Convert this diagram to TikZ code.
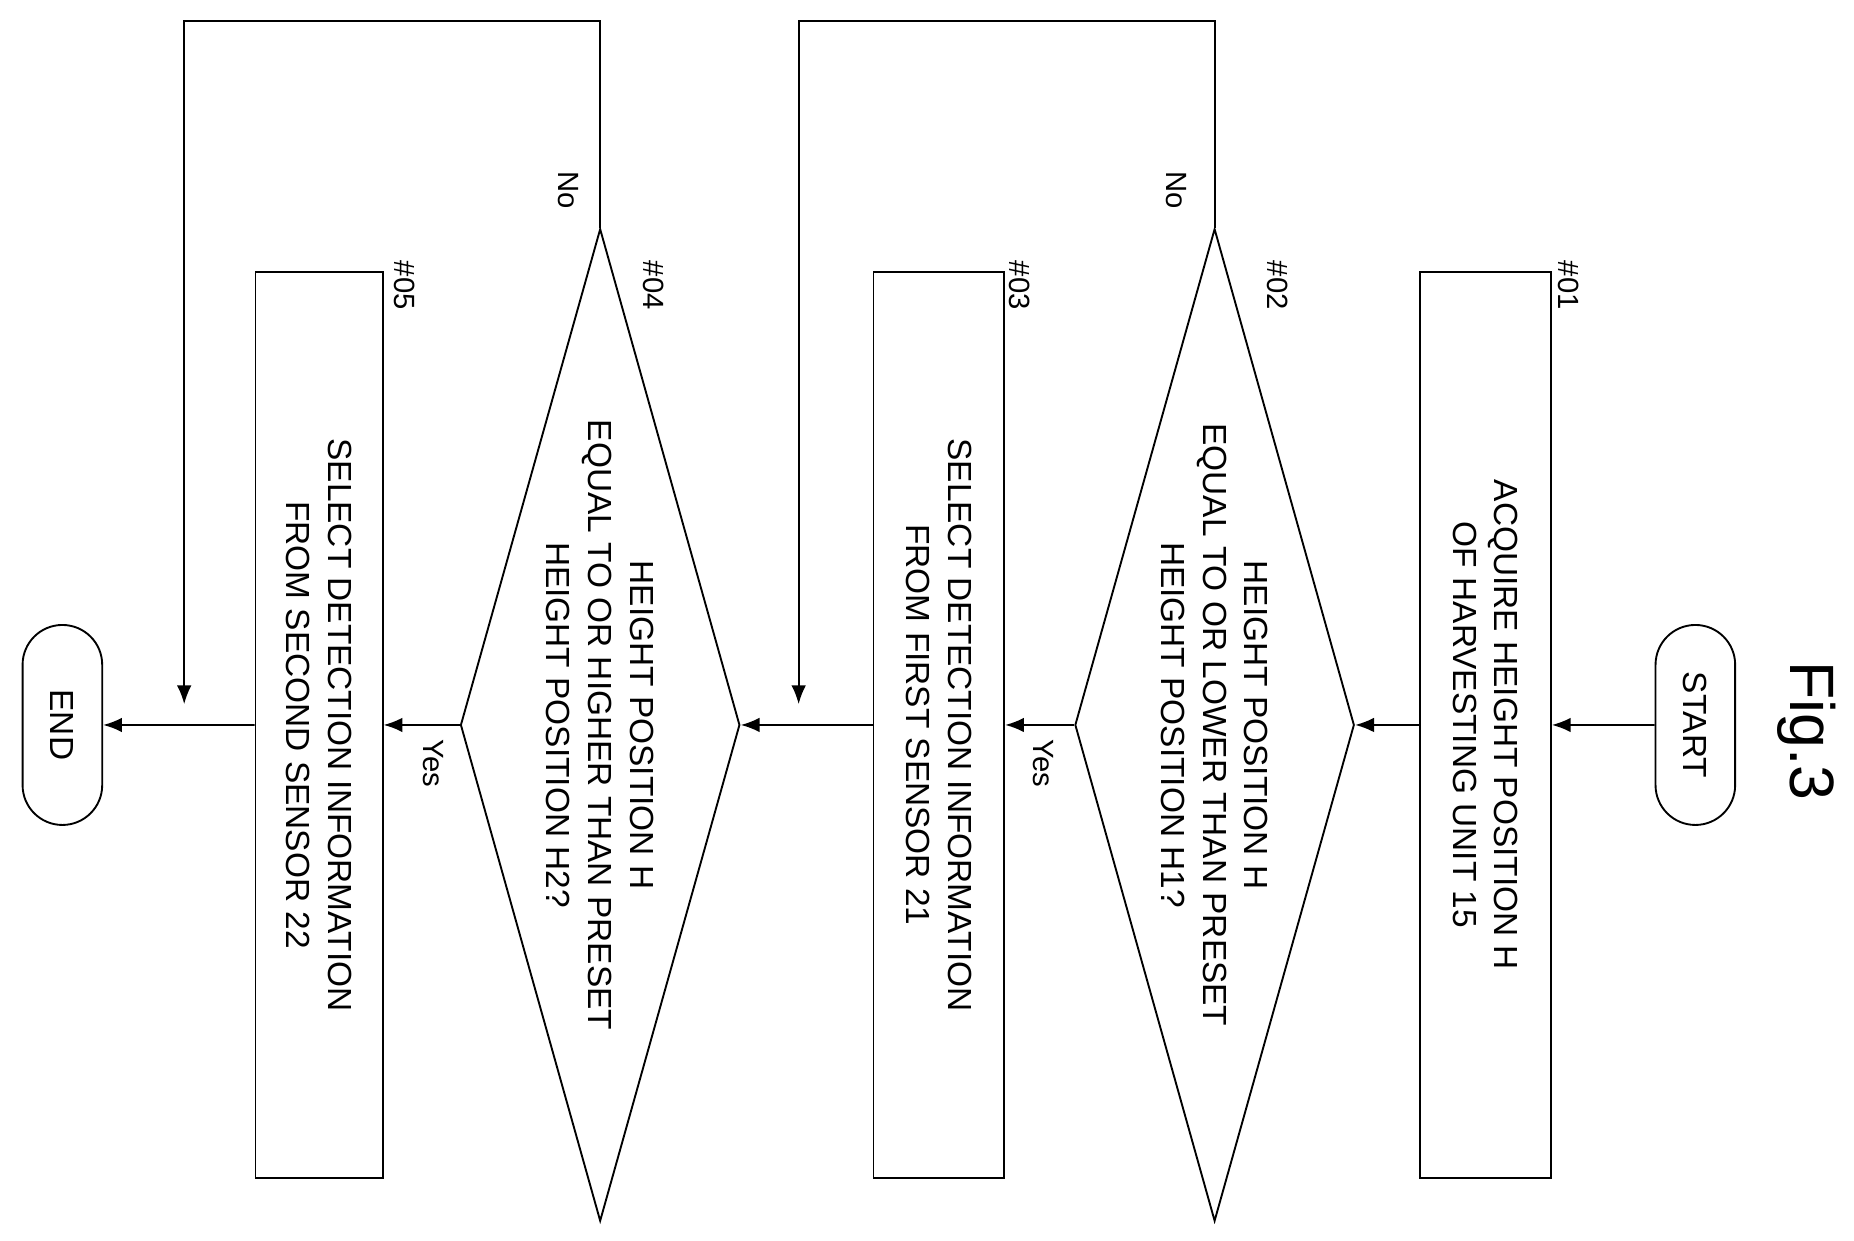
\documentclass[tikz,border=0pt]{standalone}
\usepackage{fontspec}
\setmainfont{Liberation Sans}
\usetikzlibrary{shapes.geometric,shapes.misc,arrows.meta}
\begin{document}
\begin{tikzpicture}[
  every node/.style={rotate=-90,font=\fontsize{16}{20}\selectfont},
  box/.style={draw,line width=0.9pt,minimum width=15.24cm,minimum height=2.2cm,align=center,inner sep=0},
  term/.style={draw,line width=0.9pt,rounded rectangle,minimum width=3.6cm,minimum height=1.34cm},
  dia/.style={draw,line width=0.9pt,diamond,minimum width=16.7cm,minimum height=4.7cm,inner sep=0},
  txt/.style={align=center},
  lab/.style={font=\fontsize{14}{16}\selectfont},
  arr/.style={line width=0.9pt,-{Latex[length=9pt,width=7pt]}},
  ln/.style={line width=0.9pt}]
\useasboundingbox (0,0) rectangle (31.2,-20.88);
\node[font=\fontsize{30}{34}\selectfont] (fig) at (30.4,-12.3) {Fig.3};
\node[term] (start) at (28.53,-12.2) {START};
\node[box] (b1) at (25.0,-12.2) {ACQUIRE HEIGHT POSITION H\\OF HARVESTING UNIT 15};
\node[dia] (d2) at (20.44,-12.2) {};
\node[txt] (t2) at (20.44,-12.2) {HEIGHT POSITION H\\EQUAL TO OR LOWER THAN PRESET\\HEIGHT POSITION H1?};
\node[box] (b3) at (15.8,-12.2) {SELECT DETECTION INFORMATION\\FROM FIRST SENSOR 21};
\node[dia] (d4) at (10.1,-12.2) {};
\node[txt] (t4) at (10.1,-12.2) {HEIGHT POSITION H\\EQUAL TO OR HIGHER THAN PRESET\\HEIGHT POSITION H2?};
\node[box,minimum height=2.14cm] (b5) at (5.37,-12.2) {SELECT DETECTION INFORMATION\\FROM SECOND SENSOR 22};
\node[term] (end) at (1.05,-12.2) {END};
\node[lab] (n1) at (26.4,-4.8) {\#01};
\node[lab] (n2) at (21.5,-4.8) {\#02};
\node[lab] (n3) at (17.16,-4.8) {\#03};
\node[lab] (n4) at (11.0,-4.8) {\#04};
\node[lab] (n5) at (6.8,-4.8) {\#05};
\node[lab] (no1) at (19.8,-3.2) {No};
\node[lab] (no2) at (9.56,-3.2) {No};
\node[lab] (y1) at (17.56,-12.85) {Yes};
\node[lab] (y2) at (7.3,-12.85) {Yes};
\draw[arr] (start) -- (b1);
\draw[arr] (b1) -- (d2.north);
\draw[arr] (d2.south) -- (b3);
\draw[arr] (b3) -- (d4.north);
\draw[arr] (d4.south) -- (b5);
\draw[arr] (b5) -- (end);
\coordinate (j1) at (13.44,-11.85);
\coordinate (j2) at (3.1,-11.85);
\draw[arr] (d2.west) -- (20.44,-0.36) -| (j1);
\draw[arr] (d4.west) -- (10.1,-0.36) -| (j2);
\end{tikzpicture}
\end{document}
